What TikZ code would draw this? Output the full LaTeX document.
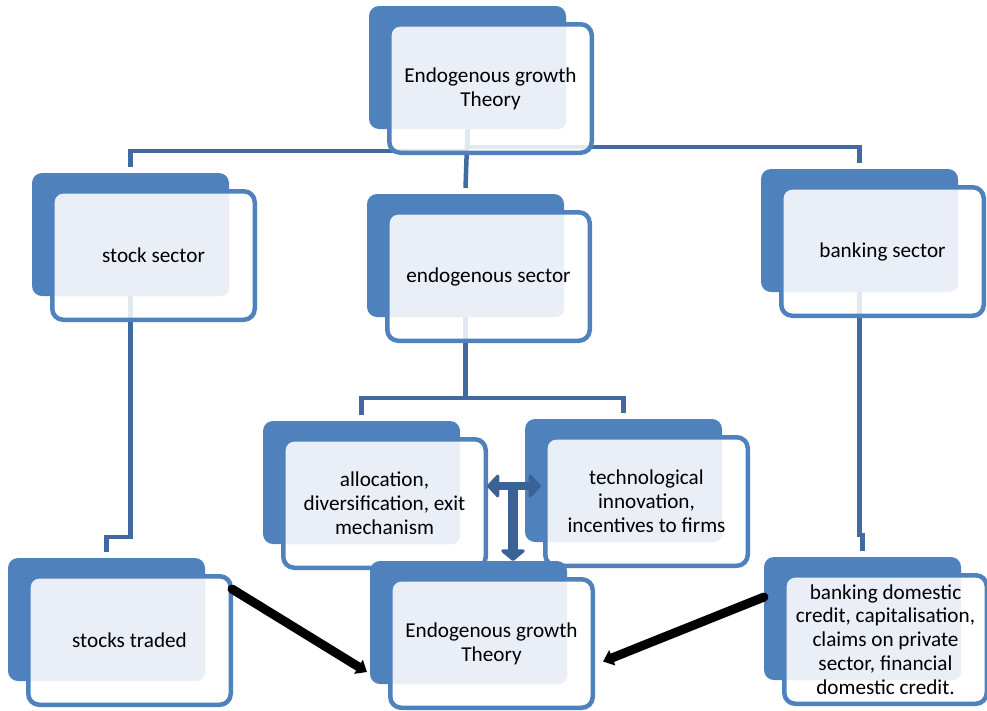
\documentclass[tikz,border=0pt]{standalone}
\usepackage{fontspec}
\setmainfont{Carlito}
\usetikzlibrary{arrows.meta}
\pgfdeclarelayer{background}
\pgfsetlayers{background,main}
\definecolor{accent}{RGB}{79,129,189}
\definecolor{lightfill}{RGB}{234,239,247}
\definecolor{connc}{RGB}{66,106,160}
\definecolor{tcol}{RGB}{59,98,150}
\newcommand\cardfont{\fontsize{21.2}{23.8}\selectfont}
% name, back top-left x, back top-left y, text
\newcommand\card[4]{%
  \node[backbox] (#1-b) at (#2+98.5,#3+61.5) {};
  \node[frontbox] (#1) at (#2+121.5,#3+82.5) {#4};
}
\tikzset{
  backbox/.style={fill=accent, rounded corners=10pt, minimum width=197pt,
    minimum height=123pt, inner sep=0pt, outer sep=0pt},
  frontbox/.style={draw=accent, line width=4.5pt, rounded corners=11pt,
    fill=white, fill opacity=0.85, text opacity=1, draw opacity=1,
    minimum width=202.5pt, minimum height=128.5pt, inner sep=0pt,
    align=center, font=\cardfont, text=black,
    path picture={\fill[lightfill, fill opacity=1, rounded corners=8pt]
      ([shift={(-110,-80)}]path picture bounding box.center) rectangle
      ([shift={(75.5,40.5)}]path picture bounding box.center);}},
  conn/.style={draw=connc, line width=4.5pt},
  blackarrow/.style={draw=black, line width=9pt, line cap=round,
    -{Triangle[width=16pt,length=10pt]}},
  tarrow/.style={draw=tcol},
}
\begin{document}
\begin{tikzpicture}[x=1pt,y=-1pt]
\useasboundingbox (0,0) rectangle (987,710);
\card{top}{369}{6}{Endogenous growth\\Theory}
\card{stock}{32}{173}{stock sector}
\card{endo}{367}{194}{endogenous sector}
\card{bank}{761}{169}{banking sector}
\card{alloc}{263}{421}{allocation,\\diversification, exit\\mechanism}
\card{tech}{525}{419}{technological\\innovation,\\incentives to firms}
\card{st}{8}{558}{stocks traded}
\card{bc}{370}{561}{Endogenous growth\\Theory}
\card{bd}{764}{557}{banking domestic\\credit, capitalisation,\\claims on private\\sector, financial\\domestic credit.}

\begin{pgfonlayer}{background}
\draw[conn] (top-b.south) -- ++(0,18) -| ([yshift=6pt]bank-b.north);
\draw[conn] (top-b.south) ++(0,22) -| ([yshift=6pt]stock-b.north);
\draw[conn] (top-b.south) -- ([yshift=6pt]endo-b.north);
\draw[conn] (stock-b.south) -- ++(0,241) -| ([yshift=6pt]st-b.north);
\draw[conn] (bank-b.south) -- ++(0,243) -| ([yshift=6pt]bd-b.north);
\draw[conn] (endo-b.south) -- ++(0,81) coordinate (ej) -| ([yshift=6pt]alloc-b.north);
\draw[conn] (ej) -| ([yshift=6pt]tech-b.north);
\end{pgfonlayer}

\draw[blackarrow] ([shift={(-1,15)}]st.north east) -- ([shift={(-3,-12)}]bc-b.south west);
\draw[blackarrow] ([shift={(0,40)}]bd-b.north west) -- ([shift={(8,18)}]bc.east);

\coordinate (tL) at (487,486);
\coordinate (tR) at (541,486);
\coordinate (tM) at (513,486);
\draw[tarrow, line width=8pt, {Triangle[width=27pt,length=13pt,round]}-{Triangle[width=27pt,length=13pt,round]}] (tL) -- (tR);
\draw[tarrow, line width=10pt, -{Triangle[width=28pt,length=12pt,round]}] (tM) -- (tM |- bc-b.north);
\end{tikzpicture}
\end{document}
